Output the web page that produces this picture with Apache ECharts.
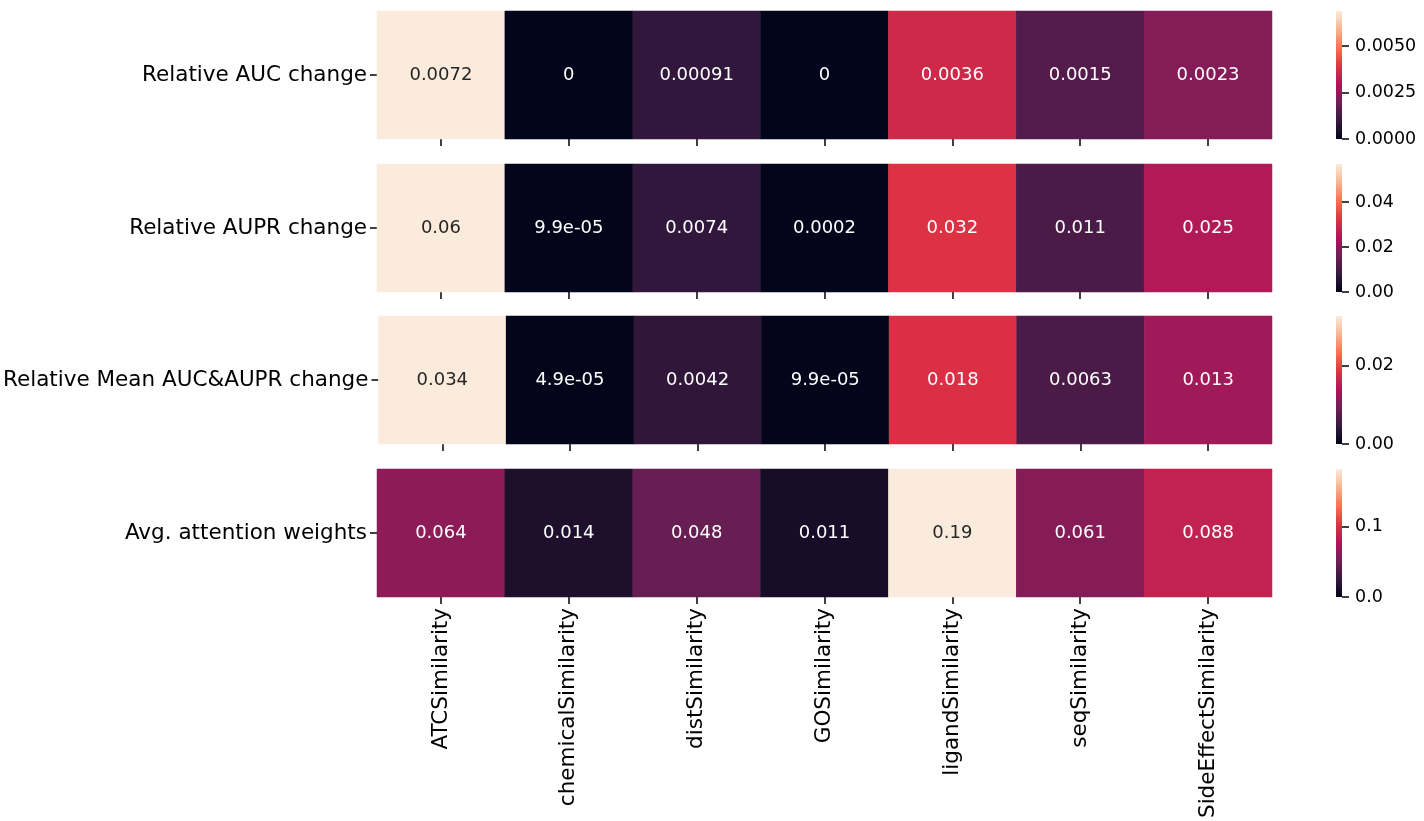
<!DOCTYPE html>
<html>
<head>
<meta charset="utf-8">
<title>heatmap</title>
<script src="https://cdn.jsdelivr.net/npm/echarts@6/dist/echarts.min.js"></script>
<style>
  html, body { margin: 0; padding: 0; background: #fff; }
  #chart { width: 1424px; height: 821px; }
</style>
</head>
<body>
<div id="chart"></div>
<script>
// 列（相似度名称）
var categories = ['ATCSimilarity', 'chemicalSimilarity', 'distSimilarity', 'GOSimilarity',
  'ligandSimilarity', 'seqSimilarity', 'SideEffectSimilarity'];

// 每一行的名字
var rowNames = ['Relative AUC change', 'Relative AUPR change',
  'Relative Mean AUC&AUPR change', 'Avg. attention weights'];

// 每一行的数值
var aucChange = [0.0072, 0, 0.00091, 0, 0.0036, 0.0015, 0.0023];
var auprChange = [0.06, 9.9e-05, 0.0074, 0.0002, 0.032, 0.011, 0.025];
var meanChange = [0.034, 4.9e-05, 0.0042, 9.9e-05, 0.018, 0.0063, 0.013];
var attention = [0.064, 0.014, 0.048, 0.011, 0.19, 0.061, 0.088];

// 色条上限（从图上读出来的）和刻度
var colorMax = [0.0069, 0.057, 0.0326, 0.182];
var cbTicks1 = [0, 0.0025, 0.005];
var cbTicks2 = [0, 0.02, 0.04];
var cbTicks3 = [0, 0.02];
var cbTicks4 = [0, 0.1];
var cbDigits = [4, 2, 2, 1];

var rows = [aucChange, auprChange, meanChange, attention];
var cbTicks = [cbTicks1, cbTicks2, cbTicks3, cbTicks4];

// rocket 色带 (从暗到亮)
var rocket = ['#03051a', '#35193e', '#701f57', '#ad1759', '#e13342', '#f37651', '#f6b48f', '#faebdd'];

// 布局
var rowTops = [11, 164, 316, 469];
var rowH = 128;
var font = 'DejaVu Sans';

// 和 matplotlib 的 %.2g 一样的格式
function fmt(v) {
  if (v === 0) return '0';
  var e = Math.floor(Math.log10(Math.abs(v)));
  if (e < -4) {
    return v.toExponential(1).replace(/e([+-])(\d)$/, 'e$10$2');
  }
  var s = v.toPrecision(2);
  if (s.indexOf('.') >= 0) s = s.replace(/0+$/, '').replace(/\.$/, '');
  return s;
}

var chart = echarts.init(document.getElementById('chart'));

var grid = [], xAxis = [], yAxis = [], series = [], visualMap = [];
var tickStyle = { color: '#000', width: 1.5 };

rows.forEach(function (vals, i) {
  var vmax = colorMax[i];
  var last = i === rows.length - 1;

  // 热力图
  var g = grid.length;
  grid.push({ left: 377, width: 895, top: rowTops[i], height: rowH });
  xAxis.push({
    type: 'category', gridIndex: g, data: categories, position: 'bottom',
    axisLine: { show: false },
    axisTick: { show: true, alignWithLabel: true, length: 7, lineStyle: tickStyle },
    axisLabel: { show: last, rotate: 90, margin: 11, color: '#000', fontFamily: font, fontSize: 21.5 },
    splitLine: { show: false }
  });
  yAxis.push({
    type: 'category', gridIndex: g, data: [rowNames[i]],
    axisLine: { show: false },
    axisTick: { show: true, alignWithLabel: true, length: 7, lineStyle: tickStyle },
    axisLabel: { margin: 10, color: '#000', fontFamily: font, fontSize: 21.5 },
    splitLine: { show: false }
  });
  series.push({
    type: 'heatmap', xAxisIndex: g, yAxisIndex: g,
    data: vals.map(function (v, j) {
      return {
        value: [j, 0, v],
        label: { color: v / vmax > 0.78 ? '#262626' : '#ffffff' }
      };
    }),
    label: {
      show: true, fontFamily: font, fontSize: 18,
      formatter: function (p) { return fmt(p.value[2]); }
    },
    emphasis: { disabled: true }
  });
  visualMap.push({
    show: false, type: 'continuous', seriesIndex: series.length - 1, dimension: 2,
    min: 0, max: vmax, inRange: { color: rocket }, outOfRange: { color: rocket[rocket.length - 1] }
  });

  // 色条
  var c = grid.length;
  grid.push({ left: 1336, width: 6, top: rowTops[i], height: rowH });
  xAxis.push({
    type: 'category', gridIndex: c, data: [''],
    axisLine: { show: false }, axisTick: { show: false }, axisLabel: { show: false }
  });
  yAxis.push({
    type: 'value', gridIndex: c, position: 'right', min: 0, max: vmax,
    axisLine: { show: false },
    splitLine: { show: false },
    axisTick: { show: true, length: 7, customValues: cbTicks[i], lineStyle: tickStyle },
    axisLabel: {
      margin: 13, color: '#000', fontFamily: font, fontSize: 17.5,
      customValues: cbTicks[i],
      formatter: function (v) { return v.toFixed(cbDigits[i]); }
    }
  });
  series.push({
    type: 'bar', xAxisIndex: c, yAxisIndex: c,
    data: [vmax], barWidth: '100%', silent: true,
    itemStyle: {
      color: new echarts.graphic.LinearGradient(0, 0, 0, 1,
        rocket.slice().reverse().map(function (col, k) {
          return { offset: k / (rocket.length - 1), color: col };
        }))
    }
  });
});

chart.setOption({
  animation: false,
  grid: grid,
  xAxis: xAxis,
  yAxis: yAxis,
  visualMap: visualMap,
  series: series
});

window.addEventListener('resize', function () { chart.resize(); });
</script>
</body>
</html>
